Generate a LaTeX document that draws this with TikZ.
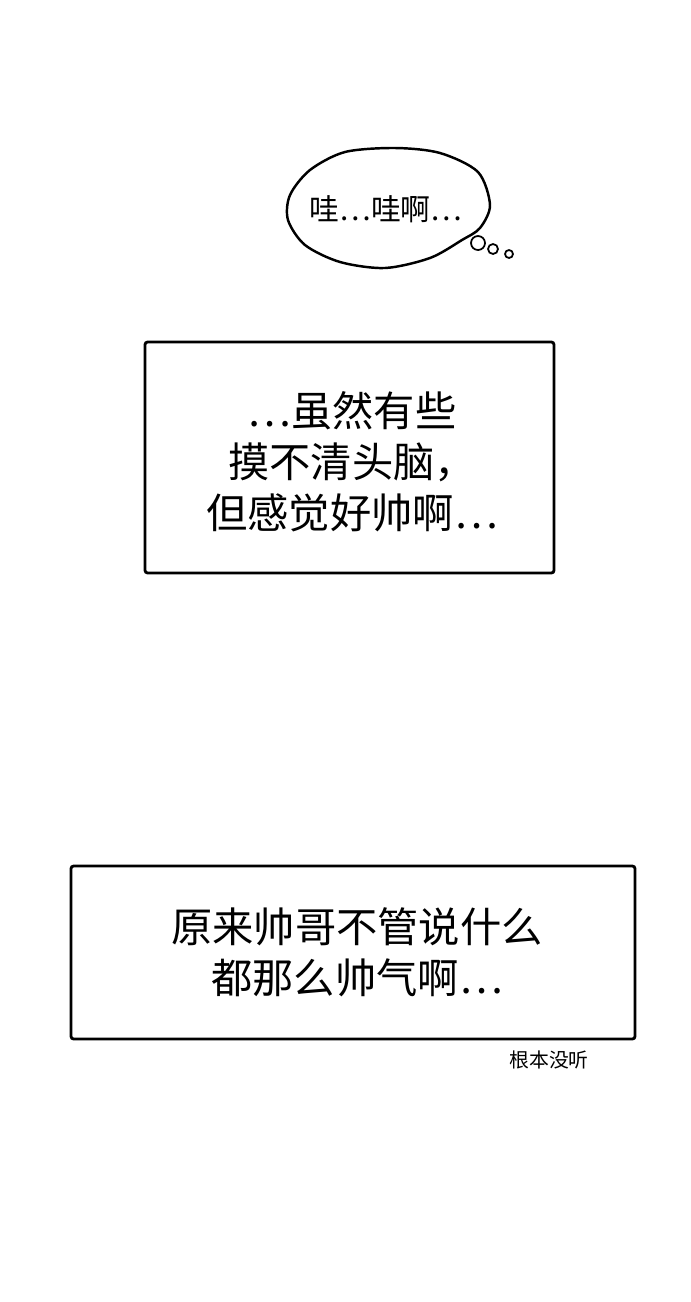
\documentclass[tikz,border=0pt]{standalone}
\usepackage{fontspec}
\newfontfamily\cjk{Noto Sans CJK SC}
\begin{document}
\begin{tikzpicture}[x=0.02cm,y=-0.02cm,
  panel/.style={draw,line width=1.6pt,rounded corners=1.5pt},
  caption/.style={font=\cjk\fontsize{23.5pt}{29pt}\selectfont,align=center},
  puff/.style={draw,line width=1pt,fill=white}]
  \useasboundingbox (0,0) rectangle (690,1302);
  % thought bubble
  \draw[line width=1.4pt] plot[smooth cycle] coordinates {(290,195) (310,170) (345,152) (395,148) (440,153) (478,172) (490,205) (480,228) (462,240) (430,258) (385,268) (340,262) (305,245) (288,220)};
  \node[font=\cjk\fontsize{17pt}{20pt}\selectfont] (think) at (386,209) {哇…哇啊…};
  \draw[puff] (478,243) circle (7);
  \draw[puff] (493,249) circle (5);
  \draw[puff] (509,254) circle (4);
  % first caption box
  \draw[panel] (145,342) rectangle (554,573);
  \node[caption] (say1) at (352,462) {…虽然有些\\摸不清头脑，\\但感觉好帅啊…};
  % second caption box
  \draw[panel] (71,866) rectangle (635,1039);
  \node[caption] (say2) at (357,952) {原来帅哥不管说什么\\都那么帅气啊…};
  \node[font=\cjk\fontsize{11.3pt}{13pt}\selectfont] (aside) at (549,1060) {根本没听};
\end{tikzpicture}
\end{document}
